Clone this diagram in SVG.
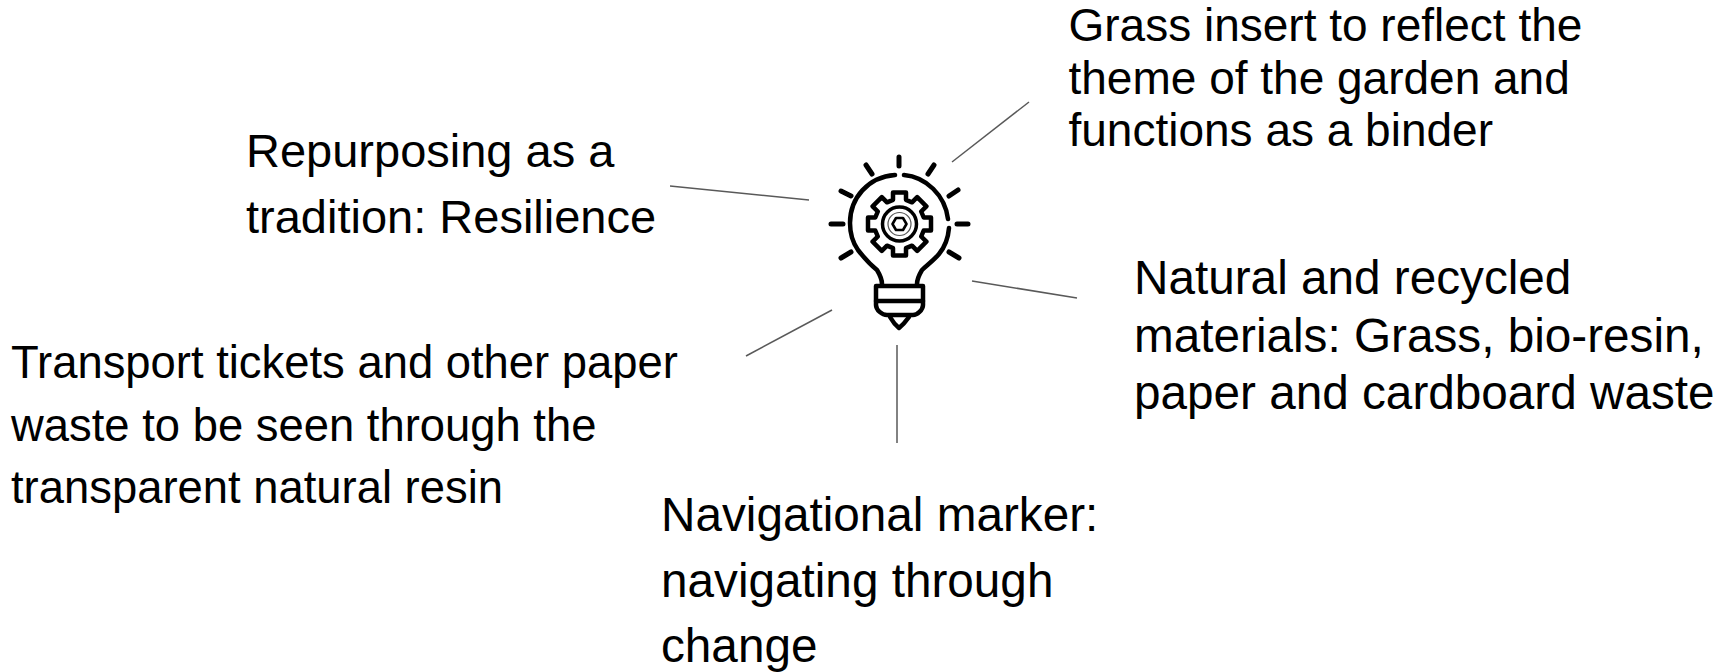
<svg xmlns="http://www.w3.org/2000/svg" width="1734" height="672" viewBox="0 0 1734 672">
<style>
text{font-family:"Liberation Sans",Arial,sans-serif;fill:#000}
.c line{stroke:#595959;stroke-width:1.5;fill:none}
.b{fill:none;stroke:#000;stroke-width:4.5;stroke-linecap:round;stroke-linejoin:round}
</style>
<rect width="1734" height="672" fill="#fff"/>
<g id="connectors" class="c">
<line x1="952" y1="162" x2="1029" y2="102"/>
<line x1="670" y1="186" x2="809" y2="200"/>
<line x1="972" y1="281" x2="1077" y2="298"/>
<line x1="897" y1="345" x2="897" y2="443"/>
<line x1="746" y1="356" x2="832" y2="310"/>
</g>
<g id="bulb" class="b">
<path d="M895 175C868 177 850 198 850 223C850 235 853 243 858 250C865 259 872 266 877 270C880 275 882 280 882 284"/>
<path d="M904 175C926 177 945 195 948 219M949 228C948 240 944 248 939 254C933 261 927 265 922 270C919 275 917 280 917 284"/>
<path d="M876 286H923V305C923 310 917 315 913 315H887C882 315 876 310 876 305Z"/>
<path d="M876 301H923"/>
<path d="M890 317Q894 324 899 328Q904 324 909 317"/>
<path stroke-width="5" d="M899 157V166M866 165L872 174M841 191L851 196M831 224H843M841 258L851 252M934 165L928 174M958 190L949 196M957 224H968M949 252L959 258"/>
<g transform="translate(899.5 224)">
<path d="M-6.5 -24.2L-6.5 -31.5 6.5 -31.5 6.5 -24.2 12.5 -21.7 17.7 -26.9 26.9 -17.7 21.7 -12.5 24.2 -6.5 31.5 -6.5 31.5 6.5 24.2 6.5 21.7 12.5 26.9 17.7 17.7 26.9 12.5 21.7 6.5 24.2 6.5 31.5 -6.5 31.5 -6.5 24.2 -12.5 21.7 -17.7 26.9 -26.9 17.7 -21.7 12.5 -24.2 6.5 -31.5 6.5 -31.5 -6.5 -24.2 -6.5 -21.7 -12.5 -26.9 -17.7 -17.7 -26.9 -12.5 -21.7Z"/>
<circle r="17" stroke-width="3.5"/>
<circle r="11.5" stroke-width="1.2" stroke="#555"/>
<path stroke-width="2.6" d="M-7 0L-3.5 -6H3.5L7 0L3.5 6H-3.5Z"/>
</g>
</g>
<g id="grass" font-size="46"><text x="1068.5" y="41">Grass insert to reflect the</text><text x="1068.5" y="94">theme of the garden and</text><text x="1068.5" y="146">functions as a binder</text></g>
<g id="repurposing" font-size="47"><text x="246" y="167">Repurposing as a</text><text x="246" y="233">tradition: Resilience</text></g>
<g id="natural" font-size="47.7"><text x="1134" y="294">Natural and recycled</text><text x="1134" y="352">materials: Grass, bio-resin,</text><text x="1134" y="409">paper and cardboard waste</text></g>
<g id="transport" font-size="45.4"><text x="11" y="378">Transport tickets and other paper</text><text x="11" y="441">waste to be seen through the</text><text x="11" y="503">transparent natural resin</text></g>
<g id="navigational" font-size="47.7"><text x="661" y="531">Navigational marker:</text><text x="661" y="597">navigating through</text><text x="661" y="662">change</text></g>
</svg>
